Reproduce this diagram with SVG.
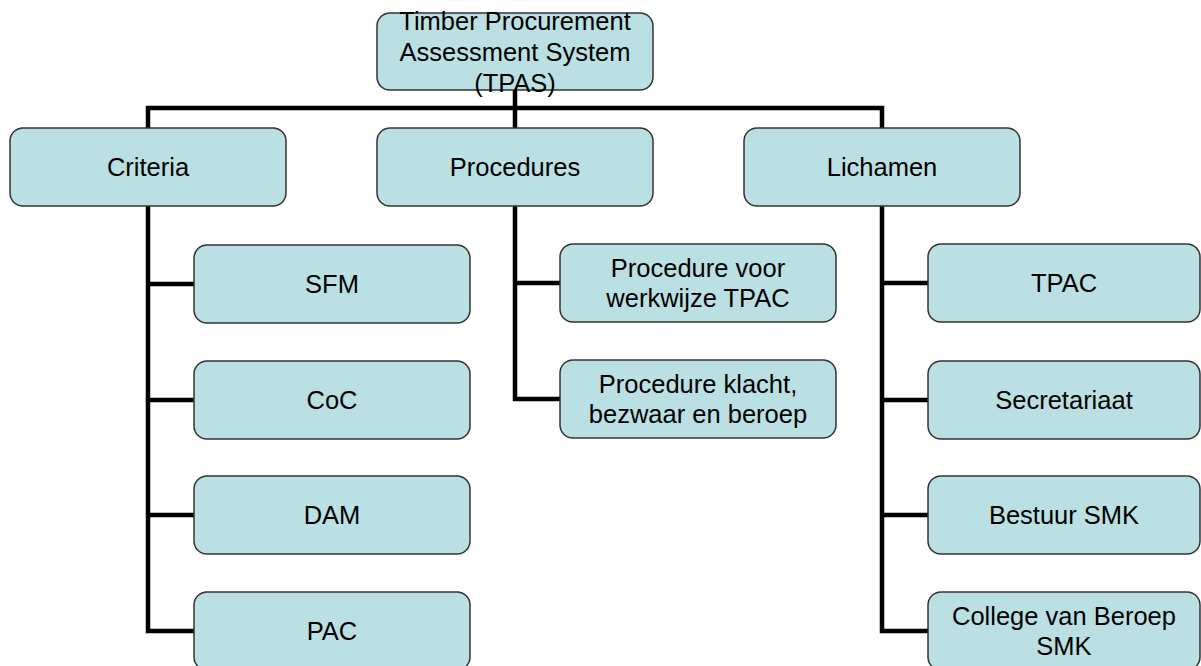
<svg xmlns="http://www.w3.org/2000/svg" width="1201" height="666" viewBox="0 0 1201 666">
<style>
.box{fill:#bbe0e3;stroke:#333333;stroke-width:1.5}
.lbl{font-family:"Liberation Sans",Arial,sans-serif;font-size:25.5px;fill:#000000;text-anchor:middle}
.con{fill:none;stroke:#000000;stroke-width:4.5;stroke-linecap:butt;stroke-linejoin:miter}
</style>
<rect width="1201" height="666" fill="#ffffff"/>
<g id="connectors">
<path class="con" d="M515,90 V129"/>
<path class="con" d="M148,129 V108 H882 V129"/>
<path class="con" d="M148,206 V631 H194"/>
<path class="con" d="M148,284 H194 M148,400 H194 M148,515 H194"/>
<path class="con" d="M515,206 V399 H560"/>
<path class="con" d="M515,283 H560"/>
<path class="con" d="M882,206 V631 H928"/>
<path class="con" d="M882,283 H928 M882,400 H928 M882,515 H928"/>
</g>
<g id="n-tpas">
<rect class="box" x="377" y="13" width="276" height="77" rx="13"/>
<text class="lbl" x="515" y="30">Timber Procurement</text>
<text class="lbl" x="515" y="61">Assessment System</text>
<text class="lbl" x="515" y="92">(TPAS)</text>
</g>
<g id="n-criteria">
<rect class="box" x="10" y="128" width="276" height="78" rx="13"/>
<text class="lbl" x="148" y="176">Criteria</text>
</g>
<g id="n-procedures">
<rect class="box" x="377" y="128" width="276" height="78" rx="13"/>
<text class="lbl" x="515" y="176">Procedures</text>
</g>
<g id="n-lichamen">
<rect class="box" x="744" y="128" width="276" height="78" rx="13"/>
<text class="lbl" x="882" y="176">Lichamen</text>
</g>
<g id="n-sfm">
<rect class="box" x="194" y="245" width="276" height="78" rx="13"/>
<text class="lbl" x="332" y="293">SFM</text>
</g>
<g id="n-coc">
<rect class="box" x="194" y="361" width="276" height="78" rx="13"/>
<text class="lbl" x="332" y="409">CoC</text>
</g>
<g id="n-dam">
<rect class="box" x="194" y="476" width="276" height="78" rx="13"/>
<text class="lbl" x="332" y="524">DAM</text>
</g>
<g id="n-pac">
<rect class="box" x="194" y="592" width="276" height="78" rx="13"/>
<text class="lbl" x="332" y="640">PAC</text>
</g>
<g id="n-proc-werkwijze">
<rect class="box" x="560" y="244" width="276" height="78" rx="13"/>
<text class="lbl" x="698" y="277">Procedure voor</text>
<text class="lbl" x="698" y="307">werkwijze TPAC</text>
</g>
<g id="n-proc-klacht">
<rect class="box" x="560" y="360" width="276" height="78" rx="13"/>
<text class="lbl" x="698" y="393">Procedure klacht,</text>
<text class="lbl" x="698" y="423">bezwaar en beroep</text>
</g>
<g id="n-tpac">
<rect class="box" x="928" y="244" width="272" height="78" rx="13"/>
<text class="lbl" x="1064" y="292">TPAC</text>
</g>
<g id="n-secretariaat">
<rect class="box" x="928" y="361" width="272" height="78" rx="13"/>
<text class="lbl" x="1064" y="409">Secretariaat</text>
</g>
<g id="n-bestuur">
<rect class="box" x="928" y="476" width="272" height="78" rx="13"/>
<text class="lbl" x="1064" y="524">Bestuur SMK</text>
</g>
<g id="n-college">
<rect class="box" x="928" y="592" width="272" height="78" rx="13"/>
<text class="lbl" x="1064" y="625">College van Beroep</text>
<text class="lbl" x="1064" y="655">SMK</text>
</g>
</svg>
